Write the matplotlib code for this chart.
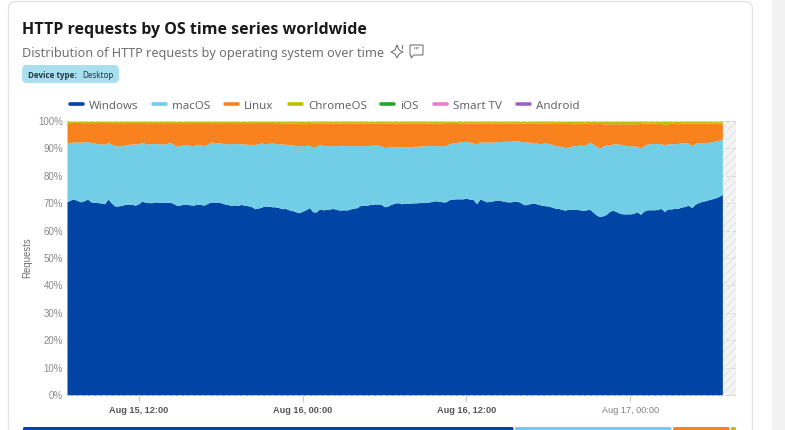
# HTTP requests by OS, stacked share over two days
import matplotlib
matplotlib.use("Agg")
import matplotlib.dates as mdates
import matplotlib.pyplot as plt
import numpy as np
from datetime import datetime, timedelta
from matplotlib.patches import FancyBboxPatch, PathPatch, Rectangle
from matplotlib.path import Path
from matplotlib.transforms import ScaledTranslation

plt.rcParams['font.family'] = ['Noto Sans', 'DejaVu Sans']

# top edge of each stacked band, in percent, one value every 15 minutes
windows_top = [
    70.5, 71.2, 71.5, 71.0, 70.5, 70.9, 71.5, 70.5, 70.3, 70.2, 70.1, 69.8, 71.5, 70.1, 69.0, 69.0,
    69.2, 69.6, 69.7, 69.6, 69.3, 69.8, 70.8, 70.3, 70.2, 70.2, 70.5, 70.3, 70.3, 70.3, 70.4, 70.0,
    69.3, 69.3, 69.6, 69.7, 69.4, 69.3, 69.6, 69.6, 69.3, 69.8, 70.4, 70.4, 70.4, 70.2, 69.8, 69.6,
    69.2, 69.4, 69.1, 69.6, 69.2, 69.1, 68.8, 68.0, 68.2, 68.6, 69.0, 68.9, 68.7, 68.7, 68.4, 68.0,
    68.1, 67.6, 67.3, 66.9, 66.5, 67.1, 67.6, 68.4, 66.9, 66.8, 67.9, 67.6, 67.7, 67.9, 68.1, 67.7,
    67.5, 67.6, 67.5, 67.9, 68.2, 68.4, 69.2, 69.3, 69.3, 69.6, 69.7, 69.7, 69.6, 68.7, 69.0, 69.6,
    70.0, 70.2, 69.8, 70.0, 70.0, 70.1, 70.1, 70.2, 70.3, 70.4, 70.4, 70.7, 70.9, 70.7, 70.5, 70.5,
    71.3, 71.5, 71.6, 71.6, 71.6, 71.8, 71.5, 71.3, 69.8, 71.6, 71.0, 70.5, 70.7, 70.9, 71.2, 71.0,
    70.7, 70.5, 70.5, 70.7, 70.7, 70.1, 69.4, 69.6, 70.0, 70.0, 69.6, 69.3, 69.1, 69.0, 68.6, 68.2,
    68.1, 67.7, 67.5, 67.9, 67.7, 67.9, 67.6, 67.5, 67.5, 67.9, 66.9, 65.8, 65.1, 65.4, 65.9, 67.1,
    67.4, 66.9, 66.3, 66.1, 66.1, 66.1, 66.3, 66.9, 65.9, 67.1, 67.6, 67.6, 67.6, 67.7, 68.1, 67.0,
    67.9, 67.9, 68.1, 68.1, 68.6, 68.8, 69.3, 68.4, 69.6, 70.2, 70.7, 70.9, 71.3, 71.6, 72.0, 72.5,
    73.2,
]
macos_top = [
    92.1, 92.2, 92.3, 92.3, 92.3, 92.4, 92.5, 92.2, 92.0, 91.7, 91.6, 91.6, 92.1, 91.6, 91.0, 90.9,
    91.0, 91.2, 91.5, 91.6, 91.6, 91.7, 92.2, 91.8, 91.6, 91.8, 91.8, 91.6, 91.7, 91.7, 92.2, 91.6,
    90.8, 91.0, 91.4, 91.5, 91.1, 91.0, 91.4, 91.5, 91.0, 91.4, 92.3, 92.2, 92.1, 92.0, 91.7, 91.7,
    91.8, 91.7, 91.8, 91.7, 91.6, 91.5, 91.4, 91.5, 91.7, 92.0, 91.7, 91.8, 92.0, 91.8, 91.7, 91.6,
    91.5, 91.4, 91.2, 91.1, 91.0, 91.0, 91.1, 91.2, 90.3, 90.8, 91.4, 91.1, 91.0, 91.0, 91.0, 91.0,
    91.1, 91.1, 91.0, 91.0, 91.1, 91.0, 91.0, 91.0, 91.1, 91.1, 91.2, 91.2, 90.9, 90.3, 90.5, 90.8,
    90.6, 90.6, 90.5, 90.5, 90.6, 90.6, 90.8, 90.8, 90.9, 91.0, 91.0, 91.1, 91.0, 91.0, 90.9, 91.0,
    91.7, 92.0, 92.2, 92.3, 92.5, 92.6, 92.3, 92.1, 91.5, 92.5, 92.3, 92.3, 92.3, 92.3, 92.5, 92.5,
    92.6, 92.6, 92.6, 92.7, 92.8, 92.5, 92.5, 92.3, 92.2, 92.1, 91.8, 91.8, 92.0, 91.8, 91.5, 91.1,
    90.9, 90.6, 90.3, 90.5, 91.0, 91.0, 91.2, 91.1, 91.2, 92.2, 91.6, 90.8, 90.1, 90.8, 91.4, 91.1,
    91.6, 91.7, 91.5, 91.2, 91.0, 91.0, 90.9, 90.8, 90.1, 91.0, 91.6, 91.7, 91.8, 91.8, 91.7, 91.2,
    91.7, 91.7, 91.7, 91.8, 92.0, 92.0, 92.0, 91.0, 91.8, 92.1, 92.1, 92.2, 92.2, 92.5, 92.7, 93.0,
    93.4,
]
linux_top = [
    99.4, 99.4, 99.5, 99.5, 99.4, 99.4, 99.4, 99.4, 99.4, 99.4, 99.5, 99.4, 99.4, 99.4, 99.4, 99.4,
    99.4, 99.4, 99.4, 99.4, 99.4, 99.4, 99.4, 99.4, 99.4, 99.4, 99.4, 99.4, 99.4, 99.4, 99.4, 99.4,
    99.4, 99.4, 99.4, 99.4, 99.4, 99.4, 99.4, 99.4, 99.4, 99.4, 99.4, 99.4, 99.4, 99.4, 99.4, 99.4,
    99.4, 99.4, 99.4, 99.4, 99.4, 99.4, 99.4, 99.4, 99.4, 99.4, 99.4, 99.4, 99.4, 99.4, 99.4, 99.3,
    99.3, 99.3, 99.3, 99.2, 99.1, 99.0, 99.0, 99.1, 99.2, 99.3, 99.3, 99.3, 99.3, 99.3, 99.3, 99.3,
    99.3, 99.3, 99.2, 99.3, 99.3, 99.3, 99.3, 99.3, 99.3, 99.3, 99.2, 99.3, 99.3, 99.3, 99.3, 99.3,
    99.3, 99.2, 99.3, 99.3, 99.3, 99.3, 99.2, 99.3, 99.3, 99.3, 99.3, 99.3, 99.3, 99.3, 99.3, 99.4,
    99.4, 99.4, 99.4, 99.3, 99.3, 99.3, 99.3, 99.3, 99.3, 99.3, 99.3, 99.3, 99.3, 99.3, 99.3, 99.3,
    99.3, 99.3, 99.2, 99.2, 99.2, 99.3, 99.3, 99.3, 99.3, 99.3, 99.2, 99.2, 99.2, 99.2, 99.2, 99.1,
    99.1, 99.1, 99.1, 99.1, 99.0, 99.0, 99.1, 99.2, 99.2, 99.1, 99.0, 99.1, 99.1, 99.0, 99.0, 99.0,
    99.0, 99.0, 99.0, 99.0, 99.0, 99.0, 99.0, 99.0, 99.1, 99.2, 99.2, 99.2, 99.2, 99.2, 99.1, 98.6,
    99.0, 99.2, 99.1, 99.0, 99.2, 99.2, 99.2, 99.2, 99.2, 99.2, 99.2, 99.2, 99.2, 99.2, 99.2, 99.2,
    99.2,
]
chromeos_top = [
    99.9, 99.9, 99.9, 99.9, 99.9, 99.9, 99.9, 99.9, 99.9, 99.9, 99.9, 99.9, 99.9, 99.9, 99.9, 99.9,
    99.9, 99.9, 99.9, 99.9, 99.9, 99.9, 99.9, 99.9, 99.9, 99.9, 99.9, 99.9, 99.9, 99.9, 99.9, 99.9,
    99.9, 99.9, 99.9, 99.9, 99.9, 99.9, 99.9, 99.9, 99.9, 99.9, 99.9, 99.9, 99.9, 99.9, 99.9, 99.9,
    99.9, 99.9, 99.9, 99.9, 99.9, 99.9, 99.9, 99.9, 99.9, 99.9, 99.9, 99.9, 99.9, 99.9, 99.9, 99.9,
    99.9, 99.9, 99.9, 99.9, 99.9, 99.9, 99.9, 99.9, 99.9, 99.9, 99.9, 99.9, 99.9, 99.9, 99.9, 99.9,
    99.9, 99.9, 99.9, 99.9, 99.9, 99.9, 99.9, 99.9, 99.9, 99.9, 99.9, 99.9, 99.9, 99.9, 99.9, 99.9,
    99.9, 99.9, 99.9, 99.9, 99.9, 99.9, 99.9, 99.9, 99.9, 99.9, 99.9, 99.9, 99.9, 99.9, 99.9, 99.9,
    99.9, 99.9, 99.9, 99.9, 99.9, 99.9, 99.9, 99.9, 99.9, 99.9, 99.9, 99.9, 99.9, 99.9, 99.9, 99.9,
    99.9, 99.9, 99.9, 99.9, 99.9, 99.9, 99.9, 99.9, 99.9, 99.9, 99.9, 99.9, 99.9, 99.9, 99.9, 99.9,
    99.9, 99.9, 99.9, 99.9, 99.9, 99.9, 99.9, 99.9, 99.9, 99.9, 99.9, 99.9, 99.9, 99.9, 99.9, 99.9,
    99.9, 99.9, 99.9, 99.9, 99.9, 99.9, 99.9, 99.9, 99.9, 99.9, 99.9, 99.9, 99.9, 99.9, 99.9, 99.9,
    99.9, 99.9, 99.9, 99.9, 99.9, 99.9, 99.9, 99.9, 99.9, 99.9, 99.9, 99.9, 99.9, 99.9, 99.9, 99.9,
    99.9,
]

legend_names = ["Windows", "macOS", "Linux", "ChromeOS", "iOS", "Smart TV", "Android"]
legend_colors = ["#0044a5", "#72cde6", "#f8821e", "#bdc000", "#22a52a", "#ee7bc8", "#9a66c5"]
legend_x = [68, 151, 223, 287, 379, 432, 515]

y_ticks = [0, 10, 20, 30, 40, 50, 60, 70, 80, 90, 100]
x_ticks = ["2025-08-15 12:00", "2025-08-16 00:00", "2025-08-16 12:00", "2025-08-17 00:00"]
x_labels = ["Aug 15, 12:00", "Aug 16, 00:00", "Aug 16, 12:00", "Aug 17, 00:00"]
x_weights = ["bold", "bold", "bold", "normal"]

# share bar under the chart, left/right edge in pixels
bar_edges = [(23, 513.5), (515, 671.5), (673, 729.5), (731, 736)]

W, H = 785, 431
fig = plt.figure(figsize=(W / 100, H / 100), dpi=100)

# page furniture goes in an axes that counts in pixels
page = fig.add_axes([0, 0, 1, 1])
page.set_xlim(0, W)
page.set_ylim(H, 0)
page.axis("off")
page.add_patch(Rectangle((772, 0), 13, H, facecolor="#f2f2f2", edgecolor="none"))
page.add_patch(FancyBboxPatch((8.5, 2.5), 744, 460, boxstyle="round,pad=0,rounding_size=8",
                              facecolor="white", edgecolor="#e4e4e4", linewidth=1))

page.text(22, 30, "HTTP requests by OS time series worldwide", fontsize=11.5, fontweight="bold",
          family="Open Sans", color="#1a1a1a", va="center")
page.text(22, 53.5, "Distribution of HTTP requests by operating system over time", fontsize=9.15,
          color="#707070", va="center")
page.add_patch(FancyBboxPatch((22, 66), 97, 18, boxstyle="round,pad=0,rounding_size=5",
                              facecolor="#a9dfee", edgecolor="none"))
page.text(28.5, 75.5, "Device type:", fontsize=5.8, fontweight="bold", family="Open Sans",
          color="#1f3a45", va="center")
page.text(82, 76, "Desktop", fontsize=5.8, color="#1f3a45", va="center")

# sparkle icon
sparkle = Path([(397, 46), (399, 51), (403, 53), (399, 55), (397, 59), (395, 55), (391, 53), (395, 51), (397, 46)])
page.add_patch(PathPatch(sparkle, facecolor="none", edgecolor="#777777", linewidth=0.8))
page.plot([402, 402], [46, 49], color="#777777", linewidth=0.8)
# quote bubble icon
bubble = Path([(410, 46), (423, 46), (423, 56), (414, 56), (411, 59), (411, 56), (410, 56), (410, 46)])
page.add_patch(PathPatch(bubble, facecolor="none", edgecolor="#777777", linewidth=0.8))
page.text(416.5, 51, "\u201d\u201d", fontsize=6, color="#777777", ha="center", va="center")

for name, color, x in zip(legend_names, legend_colors, legend_x):
    page.plot([x + 1.5, x + 14.5], [105, 105], color=color, linewidth=2.6, solid_capstyle="round")
    page.text(x + 21, 106.5, name, fontsize=8.3, color="#666666", va="center")

page.text(27, 258, "Requests", rotation=90, fontsize=6.9, color="#707070", family="Liberation Sans",
          ha="center", va="center")

for color, (left, right) in zip(legend_colors, bar_edges):
    page.add_patch(FancyBboxPatch((left, 428), right - left, 8, boxstyle="round,pad=0,rounding_size=1.5",
                                  facecolor=color, edgecolor="none"))

# chart
ax = fig.add_axes([67 / W, 1 - 396 / H, (736 - 67) / W, (396 - 122) / H])
ax.patch.set_alpha(0)

start = datetime(2025, 8, 15, 6, 45)
times = [start + timedelta(minutes=15 * i) for i in range(len(windows_top))]
x = mdates.date2num(times)
x_end = mdates.date2num(start + timedelta(hours=49))

ax.axvspan(x[-1], x_end, facecolor="#f4f4f4", edgecolor="#e7e7e7", hatch="////", linewidth=0, zorder=0.1)
ax.fill_between(x, 0, windows_top, color=legend_colors[0], linewidth=0, zorder=3)
ax.fill_between(x, windows_top, macos_top, color=legend_colors[1], linewidth=0, zorder=3)
ax.fill_between(x, macos_top, linux_top, color=legend_colors[2], linewidth=0, zorder=3)
ax.fill_between(x, linux_top, chromeos_top, color=legend_colors[3], linewidth=0, zorder=3)

ax.set_xlim(x[0], x_end)
ax.set_ylim(0, 100)
ax.set_axisbelow(True)
ax.yaxis.grid(True, color="#d4d4d4", linestyle=(0, (3, 3)), linewidth=0.7)

ax.set_yticks(y_ticks)
ax.set_yticklabels(["{}%".format(v) for v in y_ticks], fontsize=7, color="#8a8a8a", family="Liberation Sans")
ax.tick_params(axis="y", length=0, pad=3)
# tick labels sit a little above their grid line
up = ScaledTranslation(0, 1 / 100, fig.dpi_scale_trans)
for label in ax.get_yticklabels():
    label.set_transform(label.get_transform() + up)

ax.set_xticks(mdates.date2num([datetime.strptime(t, "%Y-%m-%d %H:%M") for t in x_ticks]))
ax.set_xticklabels(x_labels, fontsize=6.6, color="#555555", family="Liberation Sans")
for label, weight in zip(ax.get_xticklabels(), x_weights):
    label.set_fontweight(weight)
    if weight == "normal":
        label.set_color("#808080")
ax.tick_params(axis="x", length=5, width=0.8, color="#cccccc", pad=2)

for side in ["left", "right"]:
    ax.spines[side].set_visible(False)
for side in ["top", "bottom"]:
    ax.spines[side].set_color("#cfcfcf")
    ax.spines[side].set_linestyle((0, (3, 3)))
    ax.spines[side].set_linewidth(0.7)
    ax.spines[side].set_zorder(4)

fig.savefig("out.png", dpi=100)
